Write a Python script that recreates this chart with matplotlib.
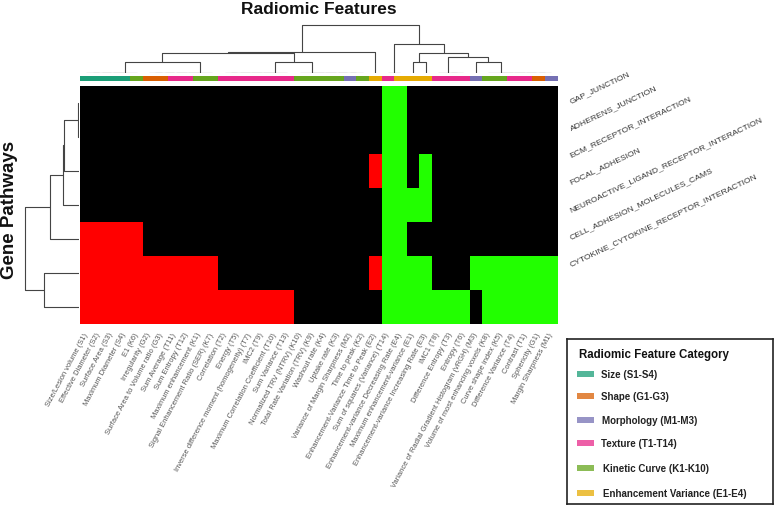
import numpy as np
import matplotlib
matplotlib.use("Agg")
import matplotlib.pyplot as plt
from matplotlib.colors import ListedColormap
from matplotlib.patches import Rectangle

plt.rcParams["font.family"] = ["Liberation Sans", "DejaVu Sans"]

# ── data ──────────────────────────────────────────────────────
feature_labels = [
    "Size/Lesion volume (S1)", "Effective Diameter (S2)", "Surface Area (S3)",
    "Maximum Diameter (S4)", "E1 (K6)", "Irregularity (G2)",
    "Surface Area to Volume ratio (G3)", "Sum Average (T11)", "Sum Entropy (T12)",
    "Maximum enhancement (K1)", "Signal Enhancement Ratio (SER) (K7)",
    "Correlation (T2)", "Energy (T5)", "Inverse difference moment (homogeneity) (T7)",
    "IMC2 (T9)", "Maximum Correlation Coefficient (T10)", "Sum Variance (T13)",
    "Normalized TRV (NTRV) (K10)", "Total Rate Variation (TRV) (K9)",
    "Washout rate (K4)", "Uptake rate (K3)", "Variance of Margin Sharpness (M2)",
    "Time to peak (K2)", "Enhancement-Variance Time to Peak (E2)",
    "Sum of squares (Variance) (T14)", "Enhancement-variance Decreasing Rate (E4)",
    "Maximum enhancement-variance (E1)", "Enhancement-variance Increasing Rate (E3)",
    "IMC1 (T8)", "Difference Entropy (T3)", "Entropy (T6)",
    "Variance of Radial Gradient Histogram (vRGH) (M3)",
    "Volume of most enhancing voxels (K8)", "Curve shape index (K5)",
    "Difference Variance (T4)", "Contrast (T1)", "Sphericity (G1)",
    "Margin Sharpness (M1)",
]
# category of each column: S, G, M, T, K, E
feature_cats = list("SSSSKGGTTKKTTTTTTKKKKMKETEEETTTMKKTTGM")

pathways = [
    "GAP_JUNCTION", "ADHERENS_JUNCTION", "ECM_RECEPTOR_INTERACTION",
    "FOCAL_ADHESION", "NEUROACTIVE_LIGAND_RECEPTOR_INTERACTION",
    "CELL_ADHESION_MOLECULES_CAMS", "CYTOKINE_CYTOKINE_RECEPTOR_INTERACTION",
]

# -1 = negative (red), 0 = none (black), 1 = positive (green)
assoc = [
    [0]*24 + [1, 1] + [0]*12,
    [0]*24 + [1, 1] + [0]*12,
    [0]*23 + [-1, 1, 1, 0, 1] + [0]*10,
    [0]*24 + [1, 1, 1, 1] + [0]*10,
    [-1]*5 + [0]*19 + [1, 1] + [0]*12,
    [-1]*11 + [0]*12 + [-1, 1, 1, 1, 1, 0, 0, 0] + [1]*7,
    [-1]*17 + [0]*7 + [1]*7 + [0] + [1]*6,
]

cat_names = ["Size (S1-S4)", "Shape (G1-G3)", "Morphology (M1-M3)",
             "Texture (T1-T14)", "Kinetic Curve (K1-K10)", "Enhancement Variance (E1-E4)"]
cat_keys = ["S", "G", "M", "T", "K", "E"]
cat_colors = ["#1B9E77", "#D95F02", "#7570B3", "#E7298A", "#66A61E", "#E6AB02"]


# dendrogram trees: leaf = column/row index, node = (left, right, height)
def chain(leaves):
    node = leaves[0]
    for lf in leaves[1:]:
        node = (node, lf, 0.0)
    return node

col_A = chain([0, 1, 2, 3, 4])
col_B = chain([5, 6, 7, 8, 9, 10])
col_C = chain([11, 12, 13, 14, 15, 16])
col_D = chain([22, 21, 20, 19, 18, 17])
col_left = ((((col_A, col_B, 11.0), (col_C, col_D, 11.0), 19.3)), 23, 20.3)
col_right = ((24, 25, 0.0),
             ((26, 27, 11.0),
              (chain([30, 29, 28]), (31, chain([37, 36, 35, 34, 33, 32]), 11.0), 15.6),
              20.0),
             29.0)
col_tree = (col_left, col_right, 47.3)

row_tree = (((((0, 1, 0.6), 2, 15.0), 3, 15.2), 4, 28.5), (5, 6, 34.2), 53.5)

# ── layout helpers (pixel boxes on a 776x510 canvas) ─────────
W, H = 776, 510
def box(x0, y0, x1, y1):
    return [x0 / W, 1 - y1 / H, (x1 - x0) / W, (y1 - y0) / H]

LINE = "#444444"

def draw_tree(ax, node, horizontal):
    if not isinstance(node, tuple):
        return node + 0.5, 0.0
    l, r, h = node
    pl, hl = draw_tree(ax, l, horizontal)
    pr, hr = draw_tree(ax, r, horizontal)
    p = [pl, pl, pr, pr]
    q = [hl, h, h, hr]
    if horizontal:
        ax.plot(p, q, color=LINE, lw=0.8, solid_capstyle="butt")
    else:
        ax.plot(q, p, color=LINE, lw=0.8, solid_capstyle="butt")
    return (pl + pr) / 2, h

fig = plt.figure(figsize=(7.76, 5.10), dpi=100)
fig.patch.set_facecolor("white")

HX0, HX1, HY0, HY1 = 80, 557.5, 86.7, 325.3
n_cols = len(feature_labels)
n_rows = len(pathways)

# ── heatmap ──
ax = fig.add_axes(box(HX0, HY0, HX1, HY1))
cmap = ListedColormap(["#FF0000", "#000000", "#22FF00"])
ax.pcolormesh(np.arange(n_cols + 1), np.arange(n_rows + 1), np.array(assoc),
              cmap=cmap, vmin=-1.5, vmax=1.5)
ax.set_xlim(0, n_cols)
ax.set_ylim(n_rows, 0)
ax.set_xticks([])
ax.set_yticks([])
for s in ax.spines.values():
    s.set_visible(False)

for i, lab in enumerate(feature_labels):
    ax.annotate(lab, xy=(i + 0.5, n_rows), xycoords="data",
                xytext=(0, -6), textcoords="offset points",
                rotation=62, rotation_mode="anchor", ha="right", va="center",
                fontsize=5.4, color="#555555")

for i, lab in enumerate(pathways):
    fig.text(571 / W, 1 - (103 + 27.3 * i) / H, lab, rotation=25.5,
             rotation_mode="anchor", ha="left", va="baseline",
             fontsize=6.1, color="#333333")

# ── category colour bar ──
axc = fig.add_axes(box(HX0, 76.5, HX1, 82))
cat_rgb = [cat_colors[cat_keys.index(c)] for c in feature_cats]
axc.bar(np.arange(n_cols) + 0.5, 1, width=1.0, color=cat_rgb, linewidth=0)
axc.set_xlim(0, n_cols)
axc.set_ylim(0, 1)
axc.axis("off")

# ── column dendrogram ──
axt = fig.add_axes(box(HX0, 24, HX1, 73.5))
draw_tree(axt, col_tree, horizontal=True)
axt.set_xlim(0, n_cols)
axt.set_ylim(0, 49.5)
axt.axis("off")

# ── row dendrogram ──
axl = fig.add_axes(box(22, HY0, 78.5, HY1))
draw_tree(axl, row_tree, horizontal=False)
axl.set_ylim(n_rows, 0)
axl.set_xlim(56.5, 0)
axl.axis("off")

fig.text((HX0 + HX1) / 2 / W, 1 - 9 / H, "Radiomic Features", ha="center",
         va="center", fontsize=12.5, fontweight="bold", color="#111111")
fig.text(9.5 / W, 1 - 210 / H, "Gene Pathways", ha="center", va="center",
         rotation=90, fontsize=13.5, fontweight="bold", color="#111111")

# ── legend ──
LX0, LY0, LX1, LY1 = 567, 340, 773, 505
axg = fig.add_axes(box(LX0, LY0, LX1, LY1))
axg.set_xlim(LX0, LX1)
axg.set_ylim(LY1, LY0)
axg.set_xticks([])
axg.set_yticks([])
for s in axg.spines.values():
    s.set_linewidth(1.2)
    s.set_color("#222222")
axg.text(579, 355, "Radiomic Feature Category", fontsize=8.3, fontweight="bold",
         ha="left", va="center", color="#111111")
entry_y = [375, 397, 421, 444, 469, 494]
text_x = [601, 601, 602, 601, 603, 603]
for name, col, y, tx in zip(cat_names, cat_colors, entry_y, text_x):
    axg.add_patch(Rectangle((577, y - 3), 17, 6, facecolor=col, alpha=0.75,
                            linewidth=0))
    axg.text(tx, y, name, fontsize=7, fontweight="bold", ha="left", va="center",
             color="#222222")

fig.savefig("out.png", dpi=100, facecolor="white")
